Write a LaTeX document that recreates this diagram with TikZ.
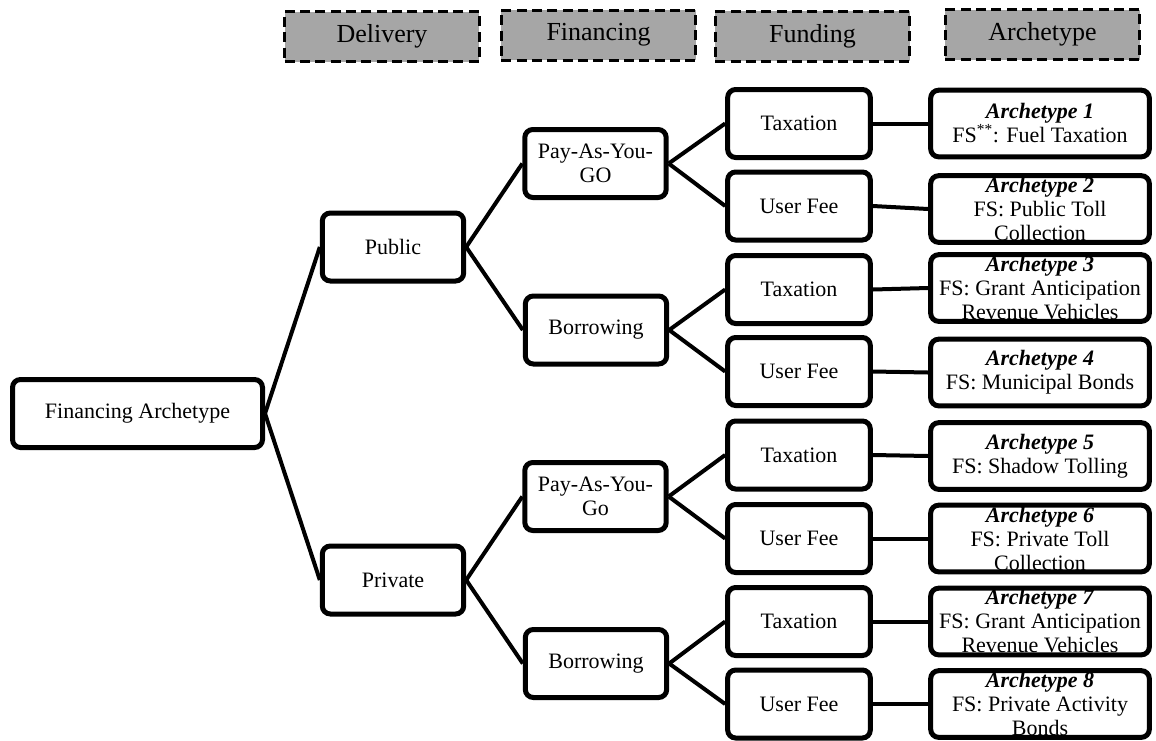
\documentclass[tikz,border=0pt]{standalone}
\usepackage{fontspec}
\setmainfont{Liberation Serif}
\definecolor{headgray}{HTML}{A6A6A6}
\begin{document}
\begin{tikzpicture}[x=0.75pt, y=-0.75pt,
	hdr/.style={draw, fill=headgray, line width=2.25pt, dash pattern=on 7.5pt off 4pt,
		minimum width=146pt, minimum height=37.5pt, inner sep=0, font=\fontsize{19.5}{22}\selectfont},
	stg/.style={draw, fill=white, line width=3.75pt, rounded corners=6pt, align=center,
		minimum width=106pt, minimum height=51pt, inner sep=1pt, font=\fontsize{16.5}{18}\selectfont},
	typ/.style={stg, minimum width=164pt, minimum height=50pt, inner sep=0},
	link/.style={line width=3pt}]
	\useasboundingbox (0, 0) rectangle (1156, 740);
	\def\hdr{node [hdr] }
	\def\stg{node [stg] }
	\def\typ{node [typ] }

	% column heads
	\draw (382, 36.5) \hdr (hdel) {Delivery};
	\draw (598.5, 35) \hdr (hfin) {Financing};
	\draw (812.5, 36) \hdr (hfun) {Funding};
	\draw (1042.5, 34.5) \hdr (harc) {Archetype};

	\draw (137.5, 413.5) \stg [minimum width=187.5pt] (root) {Financing Archetype};

	\draw (393, 247) \stg (pub) {Public};
	\draw (393, 580) \stg (pri) {Private};

	\draw (595.5, 163.5) \stg (pubpay) {Pay-As-You-\\GO};
	\draw (596, 330) \stg (pubbor) {Borrowing};
	\draw (595.5, 496.5) \stg (pripay) {Pay-As-You-\\Go};
	\draw (596, 663.5) \stg (pribor) {Borrowing};

	\draw (799, 123.5) \stg [minimum width=107pt] (f1) {Taxation};
	\draw (799, 206) \stg [minimum width=107pt] (f2) {User Fee};
	\draw (799, 289.5) \stg [minimum width=107pt] (f3) {Taxation};
	\draw (799, 371.5) \stg [minimum width=107pt] (f4) {User Fee};
	\draw (799, 455) \stg [minimum width=107pt] (f5) {Taxation};
	\draw (799, 538.5) \stg [minimum width=107pt] (f6) {User Fee};
	\draw (799, 621.5) \stg [minimum width=107pt] (f7) {Taxation};
	\draw (799, 704) \stg [minimum width=107pt] (f8) {User Fee};

	\draw (1040, 123.5) \typ (a1) {\textbf{\textit{Archetype 1}}\\FS\textsuperscript{**}: Fuel Taxation};
	\draw (1040, 209) \typ (a2) {\textbf{\textit{Archetype 2}}\\FS: Public Toll\\Collection};
	\draw (1040, 288) \typ (a3) {\textbf{\textit{Archetype 3}}\\FS: Grant Anticipation\\Revenue Vehicles};
	\draw (1040, 372.5) \typ (a4) {\textbf{\textit{Archetype 4}}\\FS: Municipal Bonds};
	\draw (1040, 456) \typ (a5) {\textbf{\textit{Archetype 5}}\\FS: Shadow Tolling};
	\draw (1040, 538.5) \typ (a6) {\textbf{\textit{Archetype 6}}\\FS: Private Toll\\Collection};
	\draw (1040, 621.5) \typ (a7) {\textbf{\textit{Archetype 7}}\\FS: Grant Anticipation\\Revenue Vehicles};
	\draw (1040, 704) \typ (a8) {\textbf{\textit{Archetype 8}}\\FS: Private Activity\\Bonds};

	\draw [link] (root.east) -- (pub.west);
	\draw [link] (root.east) -- (pri.west);
	\draw [link] (pub.east) -- (pubpay.west);
	\draw [link] (pub.east) -- (pubbor.west);
	\draw [link] (pri.east) -- (pripay.west);
	\draw [link] (pri.east) -- (pribor.west);
	\draw [link] (pubpay.east) -- (f1.west);
	\draw [link] (pubpay.east) -- (f2.west);
	\draw [link] (pubbor.east) -- (f3.west);
	\draw [link] (pubbor.east) -- (f4.west);
	\draw [link] (pripay.east) -- (f5.west);
	\draw [link] (pripay.east) -- (f6.west);
	\draw [link] (pribor.east) -- (f7.west);
	\draw [link] (pribor.east) -- (f8.west);
	\foreach \i in {1,...,8}
		\draw [link] (f\i.east) -- (a\i.west);
\end{tikzpicture}
\end{document}
